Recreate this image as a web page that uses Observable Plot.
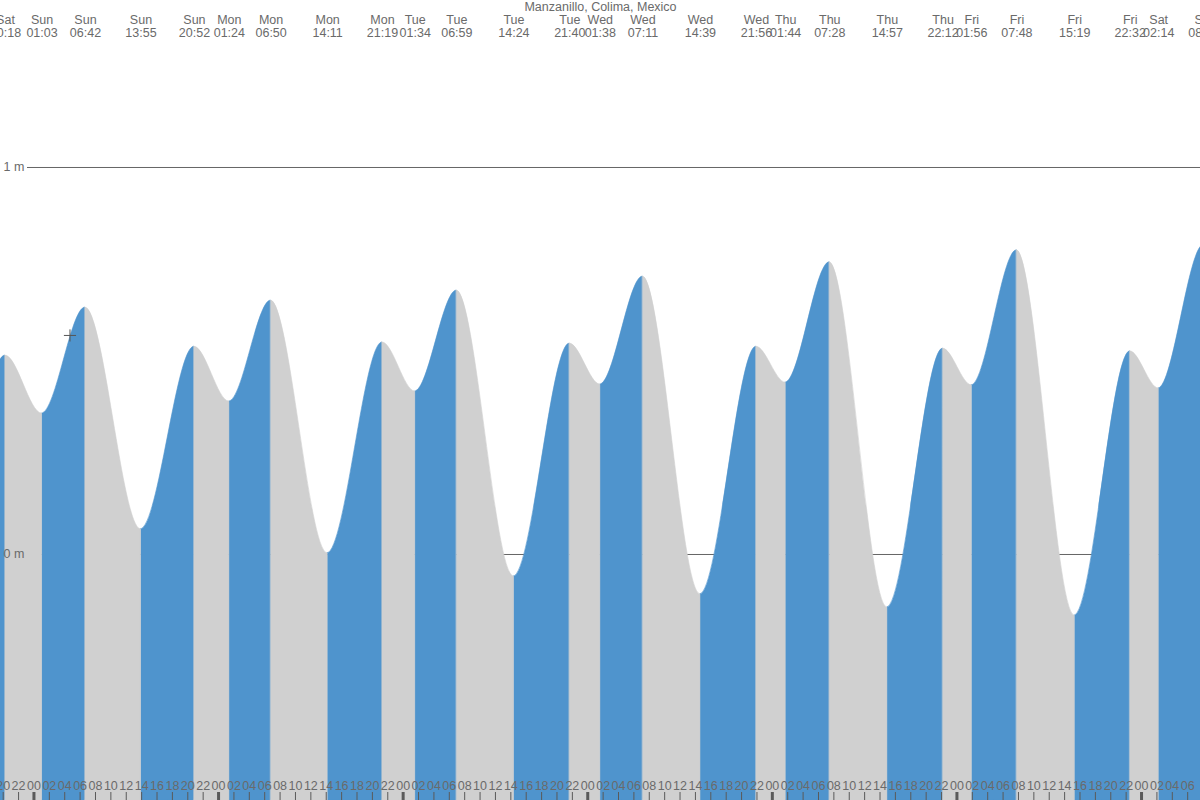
<!DOCTYPE html>
<html>
<head>
<meta charset="utf-8">
<script src="https://cdn.jsdelivr.net/npm/d3@7"></script>
<script src="https://cdn.jsdelivr.net/npm/@observablehq/plot@0.6"></script>
<style>
  html, body { margin: 0; padding: 0; background: #fff; overflow: hidden; }
  #chart svg { display: block; }
</style>
</head>
<body>
<div id="chart"></div>
<script>
// ---- data ----
const title = "Manzanillo, Colima, Mexico";
// tide extremes (first and last lie just outside the visible window)
const tideTimes = [
  "2022-12-31T13:40", "2022-12-31T20:18",
  "2023-01-01T01:03", "2023-01-01T06:42", "2023-01-01T13:55", "2023-01-01T20:52",
  "2023-01-02T01:24", "2023-01-02T06:50", "2023-01-02T14:11", "2023-01-02T21:19",
  "2023-01-03T01:34", "2023-01-03T06:59", "2023-01-03T14:24", "2023-01-03T21:40",
  "2023-01-04T01:38", "2023-01-04T07:11", "2023-01-04T14:39", "2023-01-04T21:56",
  "2023-01-05T01:44", "2023-01-05T07:28", "2023-01-05T14:57", "2023-01-05T22:12",
  "2023-01-06T01:56", "2023-01-06T07:48", "2023-01-06T15:19", "2023-01-06T22:32",
  "2023-01-07T02:14", "2023-01-07T08:07", "2023-01-07T15:40"
];
const tideHeights = [
  0.12, 0.514,
  0.364, 0.638, 0.065, 0.537,
  0.395, 0.656, 0.003, 0.548,
  0.421, 0.682, -0.057, 0.545,
  0.439, 0.718, -0.103, 0.537,
  0.444, 0.755, -0.137, 0.532,
  0.437, 0.786, -0.158, 0.525,
  0.429, 0.800, -0.17
];
const gridLevels = [0, 1];
const gridLabels = ["0 m", "1 m"];
const viewStart = "2022-12-31T19:39";
const viewEnd = "2023-01-07T07:40";
const yDomain = [-0.6357, 1.4315];
const nowTime = "2023-01-01T04:41";
const nowHeight = 0.566;

// ---- build ----
const parse = d3.utcParse("%Y-%m-%dT%H:%M");
const extremes = tideTimes.map((t, i) => ({date: parse(t), height: tideHeights[i]}));
const segments = [];
for (let i = 0; i < extremes.length - 1; i++) {
  const rising = extremes[i + 1].height > extremes[i].height;
  segments.push({...extremes[i], seg: i, rising}, {...extremes[i + 1], seg: i, rising});
}
const start = parse(viewStart), end = parse(viewEnd);
const hourTicks = d3.utcHour.every(2).range(start, end);
const fmtDay = d3.utcFormat("%a"), fmtTime = d3.utcFormat("%H:%M"), fmtHour = d3.utcFormat("%H");

// smooth curve with horizontal tangents at each point (tide-style)
function curveTide(context) {
  let x0, y0, p, line;
  return {
    areaStart() { line = 0; },
    areaEnd() { line = NaN; },
    lineStart() { p = 0; },
    lineEnd() { if (line || (line !== 0 && p === 1)) context.closePath(); line = 1 - line; },
    point(x, y) {
      x = +x; y = +y;
      if (p === 0) { p = 1; line ? context.lineTo(x, y) : context.moveTo(x, y); }
      else { const dx = (x - x0) / 3; context.bezierCurveTo(x0 + dx, y0, x - dx, y, x, y); }
      x0 = x; y0 = y;
    }
  };
}

const BLUE = "#4f94cd", GREY = "#d0d0d0", INK = "#6a6a6a";

const plot = Plot.plot({
  width: 1200,
  height: 800,
  margin: 0,
  style: {fontFamily: "'Liberation Sans', Arial, sans-serif", fontSize: "12.5px", background: "#fff"},
  x: {type: "utc", domain: [start, end], axis: null},
  y: {domain: yDomain, axis: null},
  marks: [
    Plot.ruleY(gridLevels, {y: d => d, insetLeft: 27, stroke: "#666", strokeWidth: 1}),
    Plot.areaY(segments.filter(d => d.rising), {x: "date", y1: yDomain[0], y2: "height", z: "seg", fill: BLUE, stroke: BLUE, strokeWidth: 0.6, curve: curveTide, clip: true}),
    Plot.areaY(segments.filter(d => !d.rising), {x: "date", y1: yDomain[0], y2: "height", z: "seg", fill: GREY, stroke: GREY, strokeWidth: 0.6, curve: curveTide, clip: true}),
    Plot.text(gridLevels, {y: d => d, text: (d, i) => gridLabels[i], frameAnchor: "left", textAnchor: "start", dx: 3, fill: INK}),
    Plot.dot([{date: parse(nowTime), height: nowHeight}], {x: "date", y: "height", symbol: "plus", r: 4, stroke: "#555", strokeWidth: 1}),
    Plot.ruleX(hourTicks, {x: d => d, insetTop: 792, stroke: "#5a5a5a", strokeWidth: d => d.getUTCHours() === 0 ? 3 : 1}),
    Plot.text(hourTicks, {x: d => d, text: d => fmtHour(d), frameAnchor: "bottom", lineAnchor: "bottom", dy: -11, fill: INK}),
    Plot.text(extremes, {x: "date", text: d => fmtDay(d.date) + "\n" + fmtTime(d.date), frameAnchor: "top", lineAnchor: "top", dy: 14, lineHeight: 1.06, fill: INK}),
    Plot.text([title], {text: d => d, frameAnchor: "top", lineAnchor: "top", dy: 2, fill: INK})
  ]
});
document.getElementById("chart").appendChild(plot);
</script>
</body>
</html>
